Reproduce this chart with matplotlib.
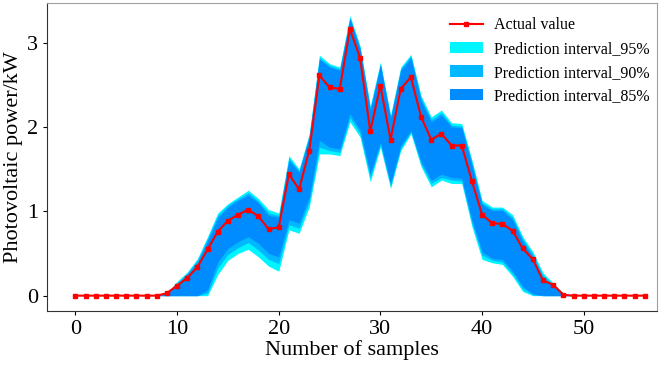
import numpy as np
import matplotlib.pyplot as plt

plt.rcParams['font.family'] = ['Liberation Serif', 'DejaVu Serif']

samples = np.arange(57)

actual = [0, 0, 0, 0, 0, 0, 0, 0, 0,
          0.03, 0.12, 0.21, 0.34, 0.55, 0.76, 0.89, 0.96, 1.02, 0.94,
          0.79, 0.81, 1.44, 1.26, 1.72, 2.61, 2.47, 2.45, 3.16, 2.82,
          1.95, 2.49, 1.85, 2.45, 2.59, 2.12, 1.85, 1.92, 1.78, 1.78,
          1.36, 0.96, 0.86, 0.85, 0.77, 0.56, 0.43, 0.18, 0.13, 0.01,
          0, 0, 0, 0, 0, 0, 0, 0]

upper95 = [0, 0, 0, 0, 0, 0, 0, 0, 0,
           0.03, 0.17, 0.28, 0.44, 0.70, 0.98, 1.09, 1.17, 1.25, 1.15,
           1.02, 0.98, 1.66, 1.50, 1.92, 2.85, 2.75, 2.71, 3.32, 2.96,
           2.25, 2.77, 2.14, 2.71, 2.86, 2.37, 2.12, 2.20, 2.05, 2.04,
           1.61, 1.13, 1.05, 1.05, 0.96, 0.70, 0.52, 0.27, 0.15, 0.03,
           0, 0, 0, 0, 0, 0, 0, 0]
lower95 = [0, 0, 0, 0, 0, 0, 0, 0, 0,
           0, 0, 0, 0, 0, 0.25, 0.42, 0.50, 0.55, 0.46,
           0.35, 0.29, 0.78, 0.74, 1.05, 1.68, 1.68, 1.66, 2.06, 1.88,
           1.35, 1.76, 1.27, 1.72, 1.92, 1.53, 1.29, 1.37, 1.33, 1.33,
           0.82, 0.43, 0.39, 0.37, 0.23, 0.05, 0, 0, 0, 0,
           0, 0, 0, 0, 0, 0, 0, 0]

upper90 = [0, 0, 0, 0, 0, 0, 0, 0, 0,
           0.03, 0.15, 0.27, 0.42, 0.68, 0.95, 1.07, 1.15, 1.22, 1.12,
           0.98, 0.95, 1.63, 1.48, 1.90, 2.82, 2.73, 2.69, 3.30, 2.94,
           2.22, 2.75, 2.12, 2.69, 2.84, 2.34, 2.09, 2.17, 2.02, 2.01,
           1.58, 1.10, 1.03, 1.03, 0.93, 0.67, 0.49, 0.24, 0.13, 0.02,
           0, 0, 0, 0, 0, 0, 0, 0]
lower90 = [0, 0, 0, 0, 0, 0, 0, 0, 0,
           0, 0, 0, 0, 0.03, 0.33, 0.49, 0.57, 0.63, 0.54,
           0.43, 0.38, 0.84, 0.80, 1.11, 1.76, 1.72, 1.70, 2.11, 1.92,
           1.40, 1.79, 1.30, 1.75, 1.94, 1.56, 1.33, 1.40, 1.37, 1.36,
           0.86, 0.48, 0.42, 0.40, 0.26, 0.08, 0.01, 0, 0, 0,
           0, 0, 0, 0, 0, 0, 0, 0]

upper85 = [0, 0, 0, 0, 0, 0, 0, 0, 0,
           0.03, 0.14, 0.25, 0.39, 0.65, 0.92, 1.05, 1.13, 1.19, 1.10,
           0.95, 0.93, 1.60, 1.46, 1.88, 2.80, 2.71, 2.67, 3.28, 2.92,
           2.20, 2.73, 2.10, 2.67, 2.82, 2.31, 2.06, 2.14, 2.00, 1.99,
           1.55, 1.08, 1.01, 1.01, 0.90, 0.64, 0.46, 0.21, 0.11, 0.02,
           0, 0, 0, 0, 0, 0, 0, 0]
lower85 = [0, 0, 0, 0, 0, 0, 0, 0, 0,
           0, 0, 0, 0, 0.07, 0.40, 0.56, 0.64, 0.70, 0.62,
           0.50, 0.46, 0.90, 0.86, 1.17, 1.84, 1.76, 1.74, 2.16, 1.96,
           1.45, 1.82, 1.33, 1.78, 1.96, 1.59, 1.37, 1.44, 1.40, 1.39,
           0.90, 0.52, 0.44, 0.43, 0.29, 0.11, 0.02, 0, 0, 0,
           0, 0, 0, 0, 0, 0, 0, 0]

fig = plt.figure(figsize=(6.71, 3.67), dpi=100)
ax = fig.add_axes([0.070, 0.153, 0.909, 0.839])

ax.fill_between(samples, lower95, upper95, color='#00F5FF', lw=0, label='Prediction interval_95%')
ax.fill_between(samples, lower90, upper90, color='#00B8FF', lw=0, label='Prediction interval_90%')
ax.fill_between(samples, lower85, upper85, color='#008CFF', lw=0, label='Prediction interval_85%')
ax.plot(samples, actual, '-s', color='red', lw=1.5, markersize=3.5, label='Actual value')

ax.set_xlim(-2.8, 57.2)
ax.set_ylim(-0.18, 3.47)
ax.set_xticks([0, 10, 20, 30, 40, 50])
ax.set_yticks([0, 1, 2, 3])
ax.tick_params(direction='out', length=3, labelsize=16, top=False, right=False)
ax.set_xlabel('Number of samples', fontsize=16, labelpad=1)
ax.set_ylabel('Photovoltaic power/kW', fontsize=16, labelpad=3)

for s in ['top', 'right']:
    ax.spines[s].set_color('#a0a0a0')
for s in ['left', 'bottom']:
    ax.spines[s].set_color('#333333')

h, l = ax.get_legend_handles_labels()
order = [3, 0, 1, 2]
ax.legend([h[i] for i in order], [l[i] for i in order], loc='upper right',
          frameon=False, fontsize=11.5, handlelength=2.1, labelspacing=0.48,
          handletextpad=0.7, bbox_to_anchor=(1.012, 1.0))

fig.savefig('out.png', dpi=100)
